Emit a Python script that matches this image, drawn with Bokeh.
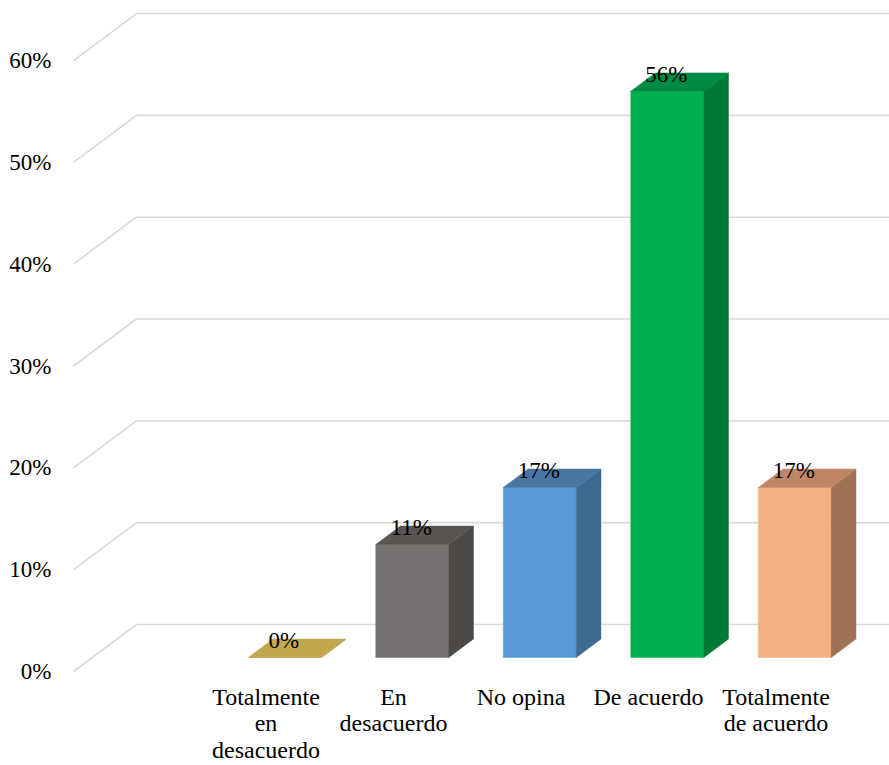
from bokeh.plotting import figure
from bokeh.models import Range1d, ColumnDataSource
from bokeh.core.properties import value
from bokeh.embed import file_html
from bokeh.resources import INLINE

# --- data -------------------------------------------------------------
categories = ["Totalmente\nen\ndesacuerdo", "En\ndesacuerdo", "No opina",
              "De acuerdo", "Totalmente\nde acuerdo"]
percentages = [0.0, 11.1, 16.7, 55.6, 16.7]
tick_values = [0, 10, 20, 30, 40, 50, 60]
tick_labels = ["0%", "10%", "20%", "30%", "40%", "50%", "60%"]

front_colors = ["#D6B860", "#767171", "#5B9BD5", "#00B050", "#F4B183"]
side_colors = ["#8F7733", "#4D4746", "#3F6A93", "#007A37", "#9E7252"]
top_colors = ["#C3A74F", "#5A5453", "#4776A3", "#008941", "#BE8664"]

# --- layout of the oblique projection (data units) --------------------
W, H = 889, 765
PX_PER_CAT = 127.5
PX_PER_PCT = 10.183
X0_PX, Y0_PX = 265.5, 671.0            # first category, 0% on the front plane

wall_dx = 63 / PX_PER_CAT               # full depth of the back wall
wall_dy = 47 / PX_PER_PCT
front_f, back_f = 0.298, 0.69           # bar depth slice within the wall
half_w = 36.5 / PX_PER_CAT
wall_left = (73 - X0_PX) / PX_PER_CAT

x_start = -X0_PX / PX_PER_CAT
x_end = (W - X0_PX) / PX_PER_CAT
y_top = Y0_PX / PX_PER_PCT
y_bottom = (Y0_PX - H) / PX_PER_PCT

p = figure(width=W, height=H, output_backend="svg", toolbar_location=None,
           x_range=Range1d(x_start, x_end), y_range=Range1d(y_bottom, y_top),
           min_border=0)
p.axis.visible = False
p.grid.visible = False
p.outline_line_color = None
p.background_fill_color = "white"
p.border_fill_color = "white"

# back wall gridlines: diagonal from the front plane, then along the wall
for t in tick_values:
    p.line([wall_left, wall_left + wall_dx, x_end],
           [t, t + wall_dy, t + wall_dy],
           line_color="#D9D9D9", line_width=1.6)

# y tick labels on the front plane
p.text(x=[(51 - X0_PX) / PX_PER_CAT] * len(tick_values), y=tick_values,
       text=tick_labels, text_align="right", text_baseline="middle",
       text_font=value("Liberation Serif"), text_font_size="23px",
       text_color="#000000")

# 3D bars
fdx, fdy = front_f * wall_dx, front_f * wall_dy
bdx, bdy = back_f * wall_dx, back_f * wall_dy
ddx, ddy = bdx - fdx, bdy - fdy

front_xs, front_ys, side_xs, side_ys, top_xs, top_ys = [], [], [], [], [], []
for i, v in enumerate(percentages):
    xl, xr = i + fdx - half_w, i + fdx + half_w
    y0, y1 = fdy, fdy + v
    front_xs.append([xl, xr, xr, xl])
    front_ys.append([y0, y0, y1, y1])
    side_xs.append([xr, xr + ddx, xr + ddx, xr])
    side_ys.append([y0, y0 + ddy, y1 + ddy, y1])
    top_xs.append([xl, xr, xr + ddx, xl + ddx])
    top_ys.append([y1, y1, y1 + ddy, y1 + ddy])

p.patches(front_xs, front_ys, fill_color=front_colors, line_color=front_colors,
          line_width=0.5)
p.patches(side_xs, side_ys, fill_color=side_colors, line_color=side_colors,
          line_width=0.5)
p.patches(top_xs, top_ys, fill_color=top_colors, line_color=top_colors,
          line_width=0.5)

# value labels above each bar
label_src = ColumnDataSource(dict(
    x=[i + fdx - 1 / PX_PER_CAT for i in range(len(percentages))],
    y=[v + bdy - 1.5 / PX_PER_PCT for v in percentages],
    text=[f"{round(v)}%" for v in percentages],
))
p.text(x="x", y="y", text="text", source=label_src, text_align="center",
       text_baseline="alphabetic", text_font=value("Liberation Serif"),
       text_font_size="23px", text_color="#000000")

# category labels under the front plane
p.text(x=list(range(len(categories))),
       y=[(Y0_PX - 683) / PX_PER_PCT] * len(categories),
       text=categories, text_align="center", text_baseline="top",
       text_font=value("Liberation Serif"), text_font_size="24px",
       text_line_height=1.02, text_color="#000000")

open("out.html", "w").write(file_html(p, INLINE))
